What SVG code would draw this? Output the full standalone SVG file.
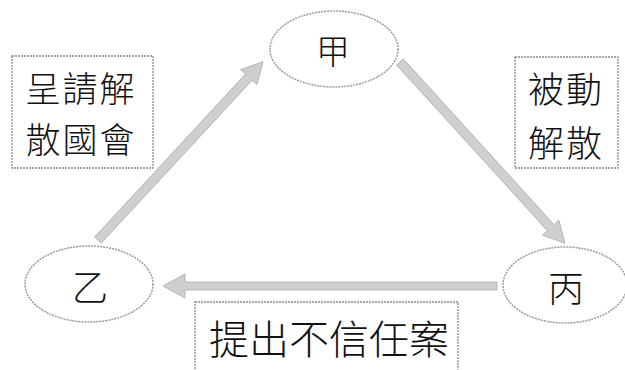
<svg xmlns="http://www.w3.org/2000/svg" width="625" height="370" viewBox="0 0 625 370">
<style>
.bg{fill:#ffffff}
.node{fill:none;stroke:#9a9a9a;stroke-width:1.5;stroke-dasharray:2 1}
.box{fill:none;stroke:#8a8a8a;stroke-width:1.3;stroke-dasharray:2 1}
.t{font-family:"Noto Sans CJK TC","Noto Sans CJK SC",sans-serif;font-weight:300;fill:#111;text-anchor:middle;dominant-baseline:central}
.arrow{fill:#cfcfcf;stroke:#aaaaaa;stroke-width:0.8}
</style>
<rect class="bg" x="0" y="0" width="625" height="370"/>
<g id="connectors">
  <g id="edge-yi-jia" transform="translate(98,240) rotate(-47.2)">
    <polygon class="arrow" points="0,-4.5 222,-4.5 222,-11 243,0 222,11 222,4.5 0,4.5"/>
  </g>
  <g id="edge-jia-bing" transform="translate(400,62) rotate(47.7)">
    <polygon class="arrow" points="0,-4.5 224,-4.5 224,-11 245,0 224,11 224,4.5 0,4.5"/>
  </g>
  <g id="edge-bing-yi" transform="translate(497,286) rotate(180)">
    <polygon class="arrow" points="0,-4 312,-4 312,-12 334,0 312,12 312,4 0,4"/>
  </g>
</g>
<g id="node-jia">
  <ellipse class="node" cx="334" cy="49" rx="64" ry="38"/>
  <text class="t" x="333" y="49" font-size="34">甲</text>
</g>
<g id="node-yi">
  <ellipse class="node" cx="89" cy="284" rx="64" ry="38"/>
  <text class="t" x="90" y="285" font-size="36">乙</text>
</g>
<g id="node-bing">
  <ellipse class="node" cx="565" cy="285" rx="62" ry="38"/>
  <text class="t" x="566" y="286" font-size="36">丙</text>
</g>
<g id="label-dissolve-request">
  <rect class="box" x="12" y="56" width="141" height="112"/>
  <text class="t" x="81" y="86" font-size="35" letter-spacing="2">呈請解</text>
  <text class="t" x="81" y="137" font-size="35" letter-spacing="2">散國會</text>
</g>
<g id="label-passive-dissolve">
  <rect class="box" x="515" y="57" width="103" height="111"/>
  <text class="t" x="566" y="87" font-size="36" letter-spacing="2">被動</text>
  <text class="t" x="566" y="141" font-size="36" letter-spacing="2">解散</text>
</g>
<g id="label-no-confidence">
  <rect class="box" x="195" y="302" width="263" height="72"/>
  <text class="t" x="329" y="337" font-size="40">提出不信任案</text>
</g>
</svg>
